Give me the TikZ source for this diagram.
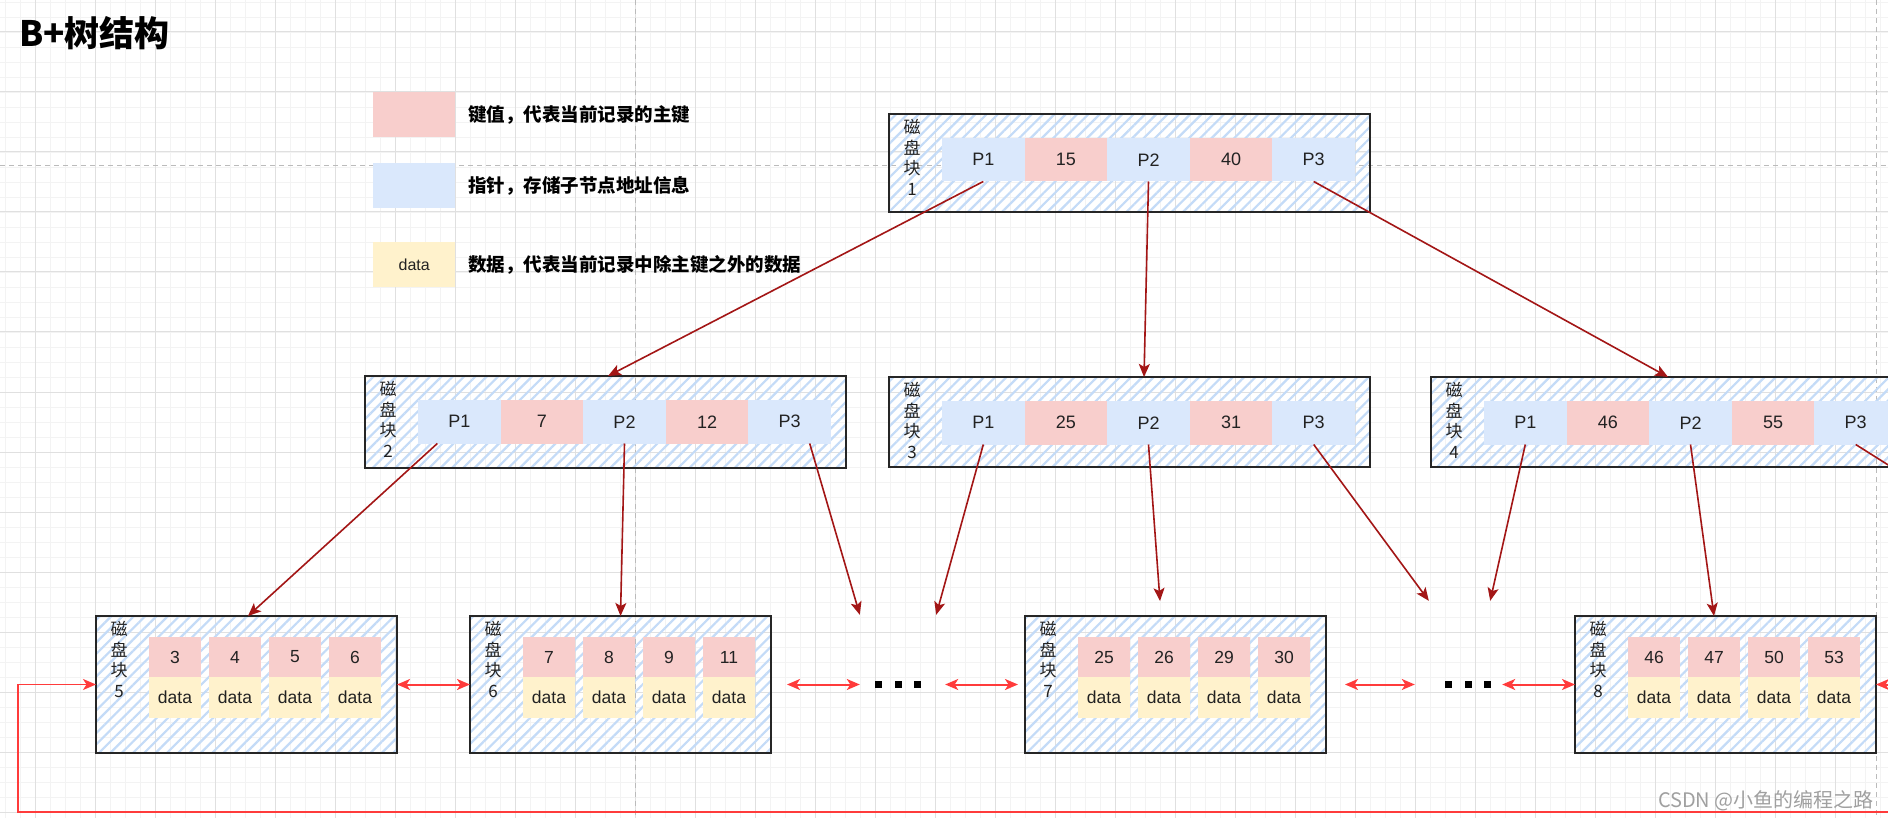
\documentclass[tikz,border=0pt]{standalone}
\usepackage{fontspec}
\setmainfont{Liberation Sans}
\newfontfamily\cjk{Noto Sans CJK SC}
\usetikzlibrary{arrows.meta,patterns.meta}
\definecolor{pinkc}{HTML}{F8CECC}
\definecolor{bluec}{HTML}{DAE8FC}
\definecolor{yelc}{HTML}{FFF2CC}
\definecolor{hatchc}{HTML}{C4DBF7}
\definecolor{treec}{HTML}{A31616}
\definecolor{linkc}{HTML}{FF3B3B}
\definecolor{gridmin}{HTML}{F3F3F3}
\definecolor{gridmaj}{HTML}{E0E0E0}
\definecolor{pagec}{HTML}{BBBBBB}
\definecolor{txtc}{HTML}{222222}
\definecolor{wmc}{HTML}{A0A0A0}
\tikzset{
  diskbox/.style={draw=black!85, line width=2.6pt, pattern={Lines[angle=45,distance=8pt,line width=2.2pt]}, pattern color=hatchc, anchor=north west, inner sep=0pt, outer sep=0pt},
  cellbase/.style={anchor=north west, inner sep=0pt, outer sep=0pt, text=txtc},
  pcell/.style={cellbase, fill=bluec, minimum width=82.6pt, minimum height=43.5pt, font=\fontsize{18}{20}\selectfont},
  kcell/.style={cellbase, fill=pinkc, minimum width=82.6pt, minimum height=43.5pt, font=\fontsize{18}{20}\selectfont},
  lkcell/.style={cellbase, fill=pinkc, minimum width=52pt, minimum height=40pt, font=\fontsize{17.5}{19}\selectfont},
  ldcell/.style={cellbase, fill=yelc, minimum width=52pt, minimum height=41pt, font=\fontsize{17.5}{19}\selectfont},
  disklabel/.style={anchor=north, inner sep=0pt, align=center, text=txtc, font=\cjk\fontsize{17}{20.7}\selectfont},
  treearrow/.style={draw=treec, line width=1.6pt, -{Stealth[length=13pt,width=11pt,inset=3pt]}},
  linkarrow/.style={draw=linkc, line width=2pt, {Stealth[length=13pt,width=11pt,inset=3.5pt]}-{Stealth[length=13pt,width=11pt,inset=3.5pt]}},
  looparrow/.style={draw=linkc, line width=1.6pt, -{Stealth[length=13pt,width=11pt,inset=3.5pt]}},
  gridminor/.style={draw=gridmin, line width=0.8pt},
  gridmajor/.style={draw=gridmaj, line width=1pt},
  pageline/.style={draw=pagec, line width=1pt, dash pattern=on 5pt off 4pt},
  legbox/.style={anchor=north west, inner sep=0pt, minimum width=82pt, minimum height=45pt, text=txtc, font=\fontsize{16}{18}\selectfont},
  legtext/.style={anchor=west, inner sep=0pt, text=black, font=\cjk\bfseries\fontsize{18.5}{20}\selectfont},
  dotsnode/.style={inner sep=0pt, minimum height=139pt}
}
\newcommand\intblock[7]{%
  \node[diskbox, minimum width=481pt, minimum height=#4pt] (#1) at (#2,#3) {};
  \node[disklabel] (#1l) at (#2+23,#3+5) {磁\\盘\\块\\#5};
  \node[pcell] (#1p1) at (#2+53,#3+24) {P1};
  \node[kcell] (#1k1) at (#2+53+82.6,#3+24) {#6};
  \node[pcell] (#1p2) at (#2+53+165.2,#3+24) {P2};
  \node[kcell] (#1k2) at (#2+53+247.8,#3+24) {#7};
  \node[pcell] (#1p3) at (#2+53+330.4,#3+24) {P3};
}
\newcommand\leafblock[8]{%
  \node[diskbox, minimum width=301pt, minimum height=137pt] (#1) at (#2,#3) {};
  \node[disklabel] (#1l) at (#2+23,#3+5) {磁\\盘\\块\\#4};
  \node[lkcell] (#1k1) at (#2+53,#3+21) {#5};
  \node[lkcell] (#1k2) at (#2+113,#3+21) {#6};
  \node[lkcell] (#1k3) at (#2+173,#3+21) {#7};
  \node[lkcell] (#1k4) at (#2+233,#3+21) {#8};
  \node[ldcell] (#1d1) at (#2+53,#3+61) {data};
  \node[ldcell] (#1d2) at (#2+113,#3+61) {data};
  \node[ldcell] (#1d3) at (#2+173,#3+61) {data};
  \node[ldcell] (#1d4) at (#2+233,#3+61) {data};
}
\begin{document}
\begin{tikzpicture}[x=1pt, y=-1pt]
\useasboundingbox[fill=white] (0,0) rectangle (1888,818);
% grid
\foreach \x in {5,20,...,1885} \draw[gridminor] (\x,0) -- (\x,818);
\foreach \y in {2,17,...,817} \draw[gridminor] (0,\y) -- (1888,\y);
\foreach \x in {35,95,...,1875} \draw[gridmajor] (\x,0) -- (\x,818);
\foreach \y in {32,92,...,812} \draw[gridmajor] (0,\y) -- (1888,\y);
% page break lines
\draw[pageline] (0,166) -- (1888,166);
\draw[pageline] (635,0) -- (635,818);
\draw[pageline] (1876,0) -- (1876,818);
% title
\node[anchor=west, inner sep=0pt, font=\cjk\bfseries\fontsize{35}{37}\selectfont] (title) at (19,33) {B+树结构};
% legend
\node[legbox, fill=pinkc] (lgk) at (373,92) {};
\node[legtext] (lgkt) at (468,114.5) {键值，代表当前记录的主键};
\node[legbox, fill=bluec] (lgp) at (373,163) {};
\node[legtext] (lgpt) at (468,185.5) {指针，存储子节点地址信息};
\node[legbox, fill=yelc] (lgd) at (373,242) {data};
\node[legtext] (lgdt) at (468,264.5) {数据，代表当前记录中除主键之外的数据};
% internal blocks
\intblock{ba}{889}{114}{98}{1}{15}{40}
\intblock{bb}{365}{376}{92}{2}{7}{12}
\intblock{bc}{889}{377}{90}{3}{25}{31}
\intblock{bd}{1431}{377}{90}{4}{46}{55}
% leaf blocks
\leafblock{be}{96}{616}{5}{3}{4}{5}{6}
\leafblock{bf}{470}{616}{6}{7}{8}{9}{11}
\leafblock{bg}{1025}{616}{7}{25}{26}{29}{30}
\leafblock{bh}{1575}{616}{8}{46}{47}{50}{53}
% ellipses
\node[dotsnode, minimum width=76pt] (dotsA) at (898,684.5) {\rule{7pt}{7pt}\hspace{12.5pt}\rule{7pt}{7pt}\hspace{12.5pt}\rule{7pt}{7pt}};
\node[dotsnode, minimum width=68pt] (dotsB) at (1468,684.5) {\rule{7pt}{7pt}\hspace{12.5pt}\rule{7pt}{7pt}\hspace{12.5pt}\rule{7pt}{7pt}};
% off-page ends
\coordinate (offD) at (1920,485);
\coordinate (offH) at (1960,684.5);
\coordinate (loopR) at (1900,812);
\coordinate (loopL) at (18,812);
% tree arrows
\draw[treearrow] (bap1.south) -- ([xshift=2.5pt]bb.north);
\draw[treearrow] (bap2.south) -- ([xshift=14.5pt]bc.north);
\draw[treearrow] (bap3.south) -- ([xshift=-3.5pt]bd.north);
\draw[treearrow] ([xshift=-22pt]bbp1.south) -- ([xshift=1.5pt]be.north);
\draw[treearrow] (bbp2.south) -- (bf.north);
\draw[treearrow] ([xshift=20pt]bbp3.south) -- (dotsA.north west);
\draw[treearrow] (bcp1.south) -- (dotsA.north east);
\draw[treearrow] (bcp2.south) -- ([shift={(-15.5pt,15pt)}]bg.north);
\draw[treearrow] (bcp3.south) -- ([shift={(-5pt,14pt)}]dotsB.north west);
\draw[treearrow] (bdp1.south) -- ([shift={(-12pt,14pt)}]dotsB.north east);
\draw[treearrow] (bdp2.south) -- ([xshift=-11.5pt]bh.north);
\draw[treearrow] (bdp3.south) -- (offD);
% leaf links
\draw[linkarrow] (be.east) -- (bf.west);
\draw[linkarrow, shorten <=16pt] (bf.east) -- (dotsA.west);
\draw[linkarrow, shorten >=7pt] ([xshift=9pt]dotsA.east) -- (bg.west);
\draw[linkarrow, shorten <=19pt] (bg.east) -- ([xshift=-19pt]dotsB.west);
\draw[linkarrow] (dotsB.east) -- (bh.west);
\draw[linkarrow] (bh.east) -- (offH);
\draw[looparrow] (loopR) -- (loopL) |- (be.west);
% watermark
\node[anchor=east, inner sep=0pt, text=wmc, font=\cjk\fontsize{20}{22}\selectfont] (wm) at (1874,801) {CSDN @小鱼的编程之路};
\end{tikzpicture}
\end{document}
